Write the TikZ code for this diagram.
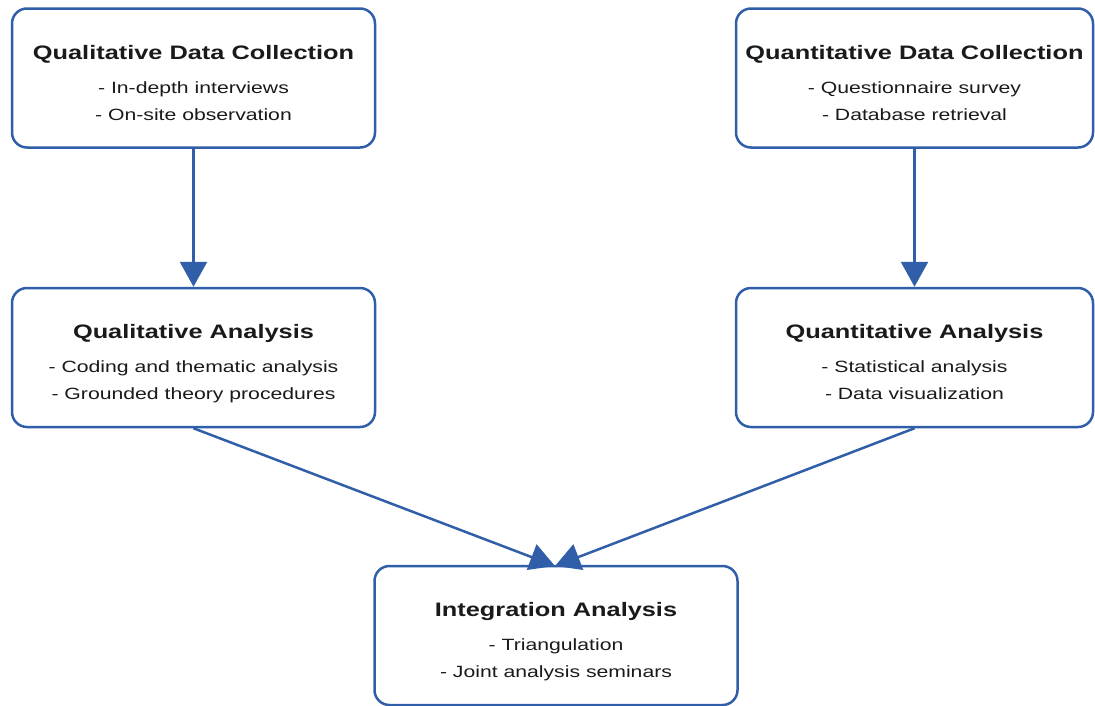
\documentclass[tikz,border=0pt]{standalone}
\usepackage{fontspec}
\usepackage{graphicx}
\setmainfont{Liberation Sans}
\usetikzlibrary{arrows.meta}
\definecolor{edge}{RGB}{48,94,168}
\definecolor{ink}{RGB}{26,26,26}
\newcommand{\wtext}[1]{\scalebox{1.3}[1]{#1}}
\tikzset{
  box/.style={draw=edge, line width=2.5pt, rounded corners=15pt, fill=white,
    minimum width=363pt, minimum height=139pt, inner sep=0pt},
  rbox/.style={box, minimum width=357pt},
  ttl/.style={anchor=base, text=ink, inner sep=0pt, font=\fontsize{19.5}{22}\selectfont\bfseries},
  itm/.style={anchor=base, text=ink, inner sep=0pt, font=\fontsize{16.3}{19}\selectfont},
  conn/.style={draw=edge, line width=2.5pt, -{Triangle[length=25pt,width=27pt]}}
}
\begin{document}
\begin{tikzpicture}[x=1pt,y=-1pt]
\useasboundingbox (0,0) rectangle (1095,705);
% boxes
\node[box] (qlc) at (193.5,78) {};
\node[rbox] (qnc) at (914.5,78) {};
\node[box] (qla) at (193.5,357.5) {};
\node[rbox] (qna) at (914.5,357.5) {};
\node[box] (int) at (556,635.5) {};
% texts
\node[ttl] (qlc1) at (193.5,59) {\wtext{Qualitative Data Collection}};
\node[itm] (qlc2) at (193.5,93) {\wtext{- In-depth interviews}};
\node[itm] (qlc3) at (193.5,120) {\wtext{- On-site observation}};
\node[ttl] (qnc1) at (914.5,59) {\wtext{Quantitative Data Collection}};
\node[itm] (qnc2) at (914.5,93) {\wtext{- Questionnaire survey}};
\node[itm] (qnc3) at (914.5,120) {\wtext{- Database retrieval}};
\node[ttl] (qla1) at (193.5,338) {\wtext{Qualitative Analysis}};
\node[itm] (qla2) at (193.5,372) {\wtext{- Coding and thematic analysis}};
\node[itm] (qla3) at (193.5,399) {\wtext{- Grounded theory procedures}};
\node[ttl] (qna1) at (914.5,338) {\wtext{Quantitative Analysis}};
\node[itm] (qna2) at (914.5,372) {\wtext{- Statistical analysis}};
\node[itm] (qna3) at (914.5,399) {\wtext{- Data visualization}};
\node[ttl] (int1) at (556,616) {\wtext{Integration Analysis}};
\node[itm] (int2) at (556,650) {\wtext{- Triangulation}};
\node[itm] (int3) at (556,677) {\wtext{- Joint analysis seminars}};
% connectors
\coordinate (tip) at (555,566);
\draw[conn] (qlc.south) -- (qla.north);
\draw[conn] (qnc.south) -- (qna.north);
\draw[conn] (qla.south) -- (tip);
\draw[conn] (qna.south) -- (tip);
\end{tikzpicture}
\end{document}
